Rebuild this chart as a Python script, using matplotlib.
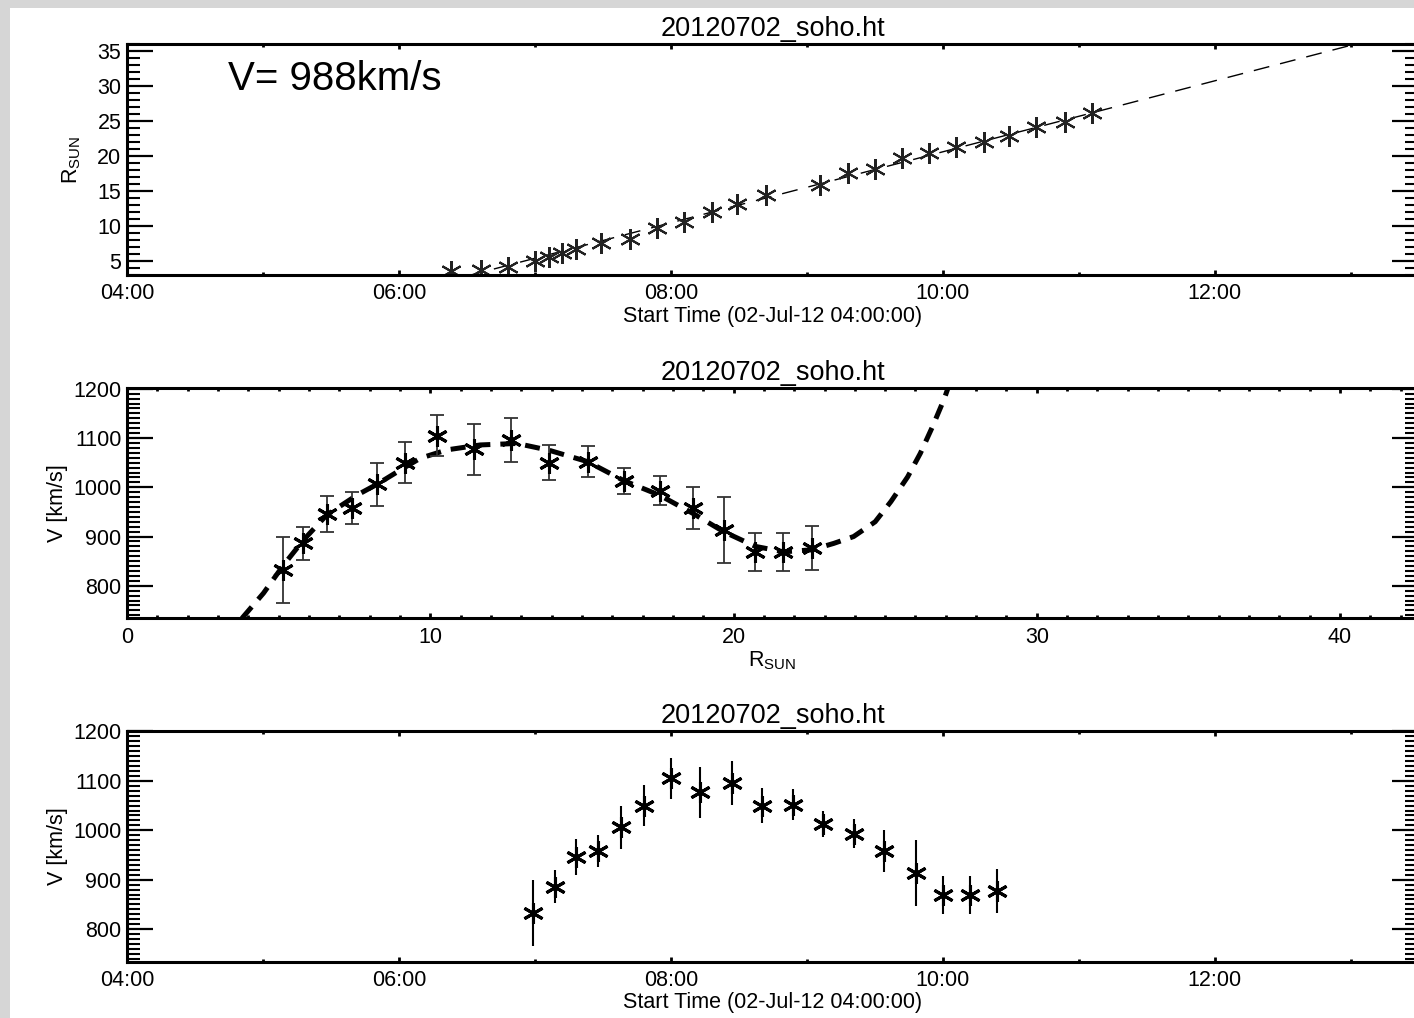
import numpy as np
import pandas as pd
import matplotlib
matplotlib.use("Agg")
import matplotlib.pyplot as plt
import matplotlib.dates as mdates
from matplotlib.patches import Rectangle
from matplotlib.ticker import MultipleLocator

plt.rcParams['font.family'] = ['Liberation Sans', 'DejaVu Sans']
plt.rcParams['mathtext.default'] = 'regular'

DAY = "2012-07-02 "
TITLE = "20120702_soho.ht"
XLABEL_TIME = "Start Time (02-Jul-12 04:00:00)"
SPEED_TEXT = "V= 988km/s"

# height-time points (top panel)
ht_times = ["06:23", "06:36", "06:48", "07:00", "07:06", "07:12", "07:18", "07:29",
            "07:42", "07:54", "08:06", "08:18", "08:29", "08:42", "09:06", "09:18",
            "09:30", "09:42", "09:54", "10:06", "10:18", "10:29", "10:41", "10:54", "11:06"]
ht_rsun = [3.5, 3.7, 4.2, 5.0, 5.6, 6.2, 6.7, 7.6, 8.1, 9.7, 10.6, 12.0, 13.1, 14.4,
           15.9, 17.5, 18.2, 19.7, 20.4, 21.3, 22.0, 22.8, 24.1, 24.8, 26.1]

# velocity points (middle and bottom panels)
v_times = ["06:59", "07:09", "07:18", "07:28", "07:38", "07:48", "08:00", "08:13", "08:27",
           "08:40", "08:54", "09:07", "09:21", "09:34", "09:48", "10:00", "10:12", "10:24"]
v_rsun = [5.14, 5.79, 6.59, 7.42, 8.24, 9.18, 10.22, 11.43, 12.66, 13.93, 15.19, 16.4,
          17.56, 18.66, 19.7, 20.72, 21.63, 22.58]
v_kms = [832, 886, 946, 958, 1006, 1050, 1105, 1077, 1096, 1050, 1052, 1013, 993, 958,
         914, 869, 869, 877]
v_err = [67, 34, 37, 33, 44, 42, 41, 52, 44, 35, 31, 27, 29, 42, 67, 38, 38, 45]

# velocity fit curve
fit_r = [3.79, 4.50, 5.16, 5.82, 6.59, 7.58, 8.24, 9.01, 9.67, 10.55, 11.65, 12.86, 13.93,
         15.19, 16.40, 17.56, 18.66, 19.67, 20.72, 21.65, 22.58, 23.30, 23.96, 24.67,
         25.19, 25.74, 26.16, 26.56, 26.95, 27.12]
fit_v = [734, 785, 842, 893, 944, 984, 1006, 1035, 1059, 1076, 1086, 1089, 1075,
         1052, 1013, 984, 947, 910, 880, 869, 873, 886, 900, 930,
         971, 1021, 1069, 1123, 1180, 1210]

t_start = pd.Timestamp(DAY + "04:00")
t_end = pd.Timestamp(DAY + "13:29:40")

W, H = 1414, 1018
fig = plt.figure(figsize=(W / 100, H / 100), dpi=100, facecolor='#d6d6d6')
fig.add_artist(Rectangle((10 / W, 0), 1, (H - 8) / H, transform=fig.transFigure,
                         facecolor='white', edgecolor='none', zorder=-10))

left, width = 127 / W, (1418 - 127) / W
ax1 = fig.add_axes([left, 1 - 275 / H, width, 231 / H])
ax2 = fig.add_axes([left, 1 - 618.3 / H, width, 230 / H])
ax3 = fig.add_axes([left, 1 - 961.7 / H, width, 230.7 / H])

FS = 15.5


def style(ax):
    for s in ax.spines.values():
        s.set_linewidth(2.2)
    ax.tick_params(axis='both', which='both', direction='in', top=True, right=True,
                   labelsize=FS, color='black')
    ax.tick_params(axis='y', which='major', length=18.7, width=1.6, pad=4)
    ax.tick_params(axis='y', which='minor', length=9.4, width=1.5)
    ax.tick_params(axis='x', which='major', length=3.5, width=2, pad=6)
    ax.tick_params(axis='x', which='minor', length=2, width=2)
    ax.set_title(TITLE, fontsize=19.5, pad=6)


def time_axis(ax):
    ax.set_xlim(t_start, t_end)
    ax.xaxis.set_major_locator(mdates.HourLocator(byhour=range(0, 24, 2)))
    ax.xaxis.set_minor_locator(mdates.HourLocator())
    ax.xaxis.set_major_formatter(mdates.DateFormatter('%H:%M'))
    ax.set_xlabel(XLABEL_TIME, fontsize=FS, labelpad=1)


ht_t = pd.to_datetime([DAY + s for s in ht_times])
v_t = pd.to_datetime([DAY + s for s in v_times])

# top: height-time with linear fit
hours = (ht_t - t_start) / pd.Timedelta(hours=1)
k, b = np.polyfit(hours, ht_rsun, 1)
fit_h = np.array([0, 9.5])
fit_t = t_start + pd.to_timedelta(fit_h, unit='h')
ax1.plot(fit_t, k * fit_h + b, color='black', lw=1.0, dashes=(11.5, 8))
ax1.plot(ht_t, ht_rsun, linestyle='none', marker=(6, 2, 0), ms=15, mew=1.5,
         mec='#222222')
style(ax1)
time_axis(ax1)
ax1.set_ylim(3, 36)
ax1.yaxis.set_major_locator(MultipleLocator(5))
ax1.yaxis.set_minor_locator(MultipleLocator(1))
ax1.set_ylabel('R$_{SUN}$', fontsize=FS, labelpad=10)
ax1.text(0.078, 0.93, SPEED_TEXT, transform=ax1.transAxes, fontsize=29, va='top')

# middle: velocity vs height with fit curve
ax2.plot(fit_r, fit_v, color='black', lw=3.6, dashes=(3, 2), solid_joinstyle='round')
ax2.errorbar(v_rsun, v_kms, yerr=v_err, fmt='none', ecolor='#333333', elinewidth=1.3,
             capsize=5, capthick=1.3)
ax2.plot(v_rsun, v_kms, linestyle='none', marker=(6, 2, 0), ms=15, mew=2.2, mec='black')
style(ax2)
ax2.set_xlim(0, 42.57)
ax2.set_ylim(734, 1201)
ax2.xaxis.set_major_locator(MultipleLocator(10))
ax2.xaxis.set_minor_locator(MultipleLocator(1))
ax2.yaxis.set_major_locator(MultipleLocator(100))
ax2.yaxis.set_minor_locator(MultipleLocator(10))
ax2.set_xlabel('R$_{SUN}$', fontsize=FS, labelpad=1)
ax2.set_ylabel('V [km/s]', fontsize=FS, labelpad=4)

# bottom: velocity vs time
ax3.errorbar(v_t, v_kms, yerr=v_err, fmt='none', ecolor='black', elinewidth=1.5,
             capsize=0)
ax3.plot(v_t, v_kms, linestyle='none', marker=(6, 2, 0), ms=15, mew=2.2, mec='black')
style(ax3)
time_axis(ax3)
ax3.set_ylim(734, 1201)
ax3.yaxis.set_major_locator(MultipleLocator(100))
ax3.yaxis.set_minor_locator(MultipleLocator(10))
ax3.set_ylabel('V [km/s]', fontsize=FS, labelpad=4)

fig.savefig('out.png', dpi=100, facecolor=fig.get_facecolor())
